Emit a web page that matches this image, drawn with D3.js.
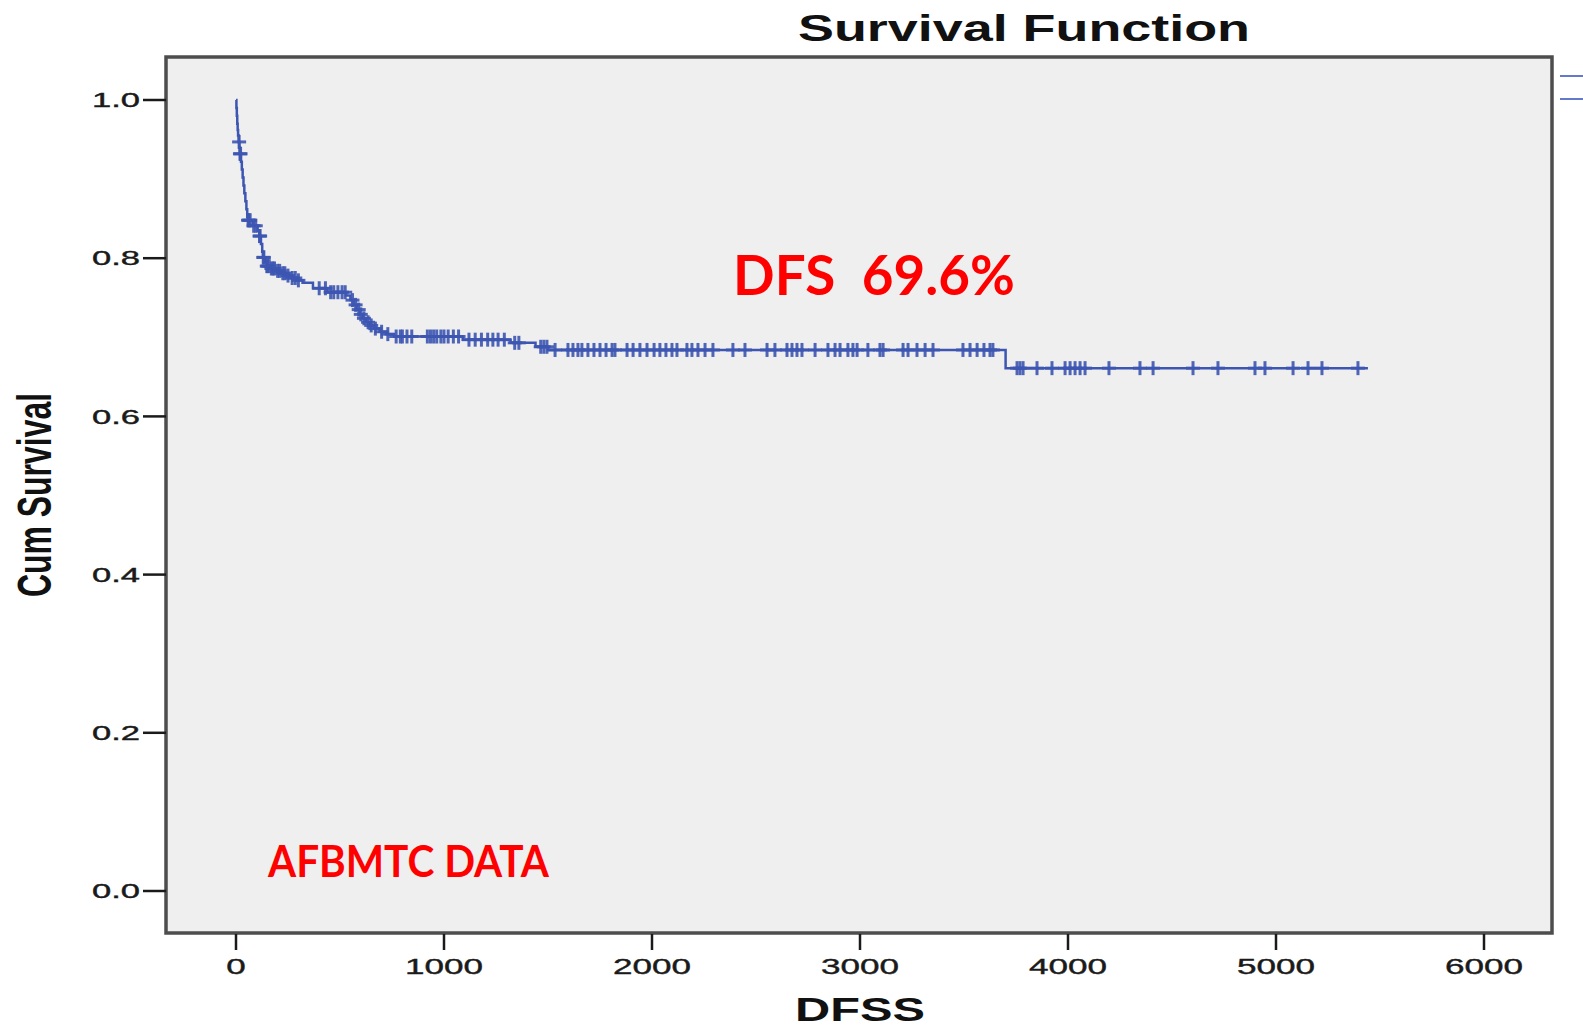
<!doctype html>
<html lang="en">
<head>
<meta charset="utf-8">
<title>Survival Function</title>
<style>
    body { margin: 0; background: #fff; }
    svg { display: block; }
    .frame { fill: #efefef; stroke: #4d4d4d; stroke-width: 3.5px; }
    .tick-line { stroke: #1a1a1a; stroke-width: 2.5px; }
    .tick-label { font-family: "Liberation Sans", Arial, sans-serif; fill: #1a1a1a; stroke: #1a1a1a; stroke-width: 0.4px; }
    .km-line { fill: none; stroke: #3d56b2; stroke-width: 2.5px; }
    .censor { stroke: #3d56b2; stroke-width: 3px; opacity: 0.9; }
    .title { font-family: "Liberation Sans", Arial, sans-serif; font-weight: bold; fill: #111; }
    .note { font-family: Lato, "Open Sans", sans-serif; font-weight: bold; fill: #ff0000; }
</style>
</head>
<body>
<svg id="plot" width="1583" height="1029"></svg>

<script src="https://d3js.org/d3.v7.min.js"></script>
<script>
// Kaplan-Meier steps: time of event (days) and survival after it
const eventTimes = [0, 2, 4, 6, 8, 10, 13, 16, 18,
    24, 28, 32, 36, 40, 45, 50, 54, 57,
    80, 104, 112, 120, 126, 130, 140, 147,
    165, 190, 215, 240, 265, 290, 320, 370, 440, 530,
    550, 565, 580, 595, 610, 625, 645, 665, 690, 720, 760,
    1090, 1320, 1440, 1500, 3700];
const eventSurv = [1.0, 0.990, 0.980, 0.970, 0.962, 0.955, 0.947, 0.940, 0.932,
    0.922, 0.912, 0.902, 0.892, 0.882, 0.872, 0.862, 0.852, 0.848,
    0.841, 0.834, 0.828, 0.818, 0.808, 0.801, 0.795, 0.790,
    0.787, 0.784, 0.781, 0.778, 0.775, 0.772, 0.769, 0.762, 0.757, 0.753,
    0.747, 0.741, 0.735, 0.729, 0.724, 0.719, 0.715, 0.711, 0.707, 0.704, 0.701,
    0.697, 0.693, 0.688, 0.684, 0.661];
const lastTime = 5442;

// censored cases (the "+" marks)
const censorTimes = [15, 19, 22, 58, 62, 68, 85, 95, 113, 116, 131, 134, 148, 152, 160,
    170, 178, 185, 200, 210, 225, 235, 250, 270, 285, 300,
    400, 430, 455, 470, 490, 510, 525,
    560, 575, 590, 600, 615, 635, 650, 670, 700, 730, 770, 790, 800,
    822, 845, 920, 935, 950, 965, 985, 1000, 1020, 1045, 1070,
    1120, 1150, 1180, 1210, 1235, 1260, 1290, 1340, 1360, 1465, 1480,
    1495, 1534, 1596, 1620, 1644, 1663, 1692, 1721, 1750, 1779, 1808, 1822,
    1880, 1909, 1942, 1976, 2010, 2038, 2067, 2096, 2120, 2168, 2192, 2221,
    2255, 2293, 2389, 2447, 2553, 2591, 2649, 2673, 2697, 2721, 2784, 2846,
    2880, 2904, 2942, 2966, 2986, 3038, 3096, 3111, 3207, 3231, 3274, 3313,
    3351, 3495, 3529, 3563, 3596, 3625, 3639,
    3755, 3769, 3784, 3851, 3923, 3986, 4010, 4034, 4058, 4082, 4197, 4346,
    4409, 4601, 4721, 4899, 4947, 5082, 5154, 5221, 5394];

const xTicks = [0, 1000, 2000, 3000, 4000, 5000, 6000];
const yTicks = [0.0, 0.2, 0.4, 0.6, 0.8, 1.0];

const svg = d3.select("#plot");

let x = d3.scaleLinear().domain([0, 6000]).range([236, 1484]);
let y = d3.scaleLinear().domain([0, 1]).range([891, 100]);

// plot frame
svg.append("rect")
    .attr("class", "frame")
    .attr("x", 166).attr("y", 57)
    .attr("width", 1386).attr("height", 876);

// y axis
let yt = svg.append("g").selectAll("g").data(yTicks).join("g")
    .attr("transform", d => "translate(0," + y(d) + ")");
yt.append("line").attr("class", "tick-line").attr("x1", 143).attr("x2", 166);
yt.append("text").attr("class", "tick-label")
    .attr("x", 140).attr("dy", "0.36em")
    .style("font-size", "20px")
    .attr("text-anchor", "end")
    .attr("textLength", 48).attr("lengthAdjust", "spacingAndGlyphs")
    .text(d => d3.format(".1f")(d));

// x axis
let xt = svg.append("g").selectAll("g").data(xTicks).join("g")
    .attr("transform", d => "translate(" + x(d) + ",0)");
xt.append("line").attr("class", "tick-line").attr("y1", 934).attr("y2", 950);
xt.append("text").attr("class", "tick-label")
    .attr("y", 974)
    .style("font-size", "22px")
    .attr("text-anchor", "middle")
    .attr("textLength", d => String(d).length * 19.5).attr("lengthAdjust", "spacingAndGlyphs")
    .text(d => d);

// KM curve
let pts = eventTimes.map((t, i) => [t, eventSurv[i]]);
pts.push([lastTime, eventSurv[eventSurv.length - 1]]);

let line = d3.line()
    .x(d => x(d[0]))
    .y(d => y(d[1]))
    .curve(d3.curveStepAfter);

svg.append("path").datum(pts).attr("class", "km-line").attr("d", line);

// survival at censor time
const bis = d3.bisector(d => d).right;
function survAt(t) {
    return eventSurv[Math.max(0, bis(eventTimes, t) - 1)];
}

let cm = svg.append("g").selectAll("g").data(censorTimes).join("g")
    .attr("transform", d => "translate(" + x(d) + "," + y(survAt(d)) + ")");
cm.append("line").attr("class", "censor").attr("x1", -7).attr("x2", 7);
cm.append("line").attr("class", "censor").attr("y1", -7).attr("y2", 7);

// legend fragment cut off at the right edge
svg.append("g").selectAll("line").data([76, 99]).join("line")
    .attr("x1", 1560).attr("x2", 1583)
    .attr("y1", d => d).attr("y2", d => d)
    .attr("stroke", "#6479cc").attr("stroke-width", 2);

// titles
svg.append("text").attr("class", "title")
    .attr("x", 1024).attr("y", 41)
    .attr("text-anchor", "middle")
    .style("font-size", "37px")
    .attr("textLength", 452).attr("lengthAdjust", "spacingAndGlyphs")
    .text("Survival Function");

svg.append("text").attr("class", "title")
    .attr("x", 860).attr("y", 1021)
    .attr("text-anchor", "middle")
    .style("font-size", "33px")
    .attr("textLength", 130).attr("lengthAdjust", "spacingAndGlyphs")
    .text("DFSS");

svg.append("text").attr("class", "title")
    .attr("transform", "translate(51,495) rotate(-90) scale(1,1.5)")
    .attr("text-anchor", "middle")
    .style("font-size", "32px")
    .attr("textLength", 204).attr("lengthAdjust", "spacingAndGlyphs")
    .text("Cum Survival");

// red notes
svg.append("text").attr("class", "note")
    .attr("x", 733).attr("y", 295)
    .style("font-size", "56px")
    .attr("textLength", 282).attr("lengthAdjust", "spacingAndGlyphs")
    .style("white-space", "pre")
    .text("DFS  69.6%");

svg.append("text").attr("class", "note")
    .attr("x", 268).attr("y", 877)
    .style("font-size", "44px")
    .attr("textLength", 281).attr("lengthAdjust", "spacingAndGlyphs")
    .text("AFBMTC DATA");
</script>
</body>
</html>
